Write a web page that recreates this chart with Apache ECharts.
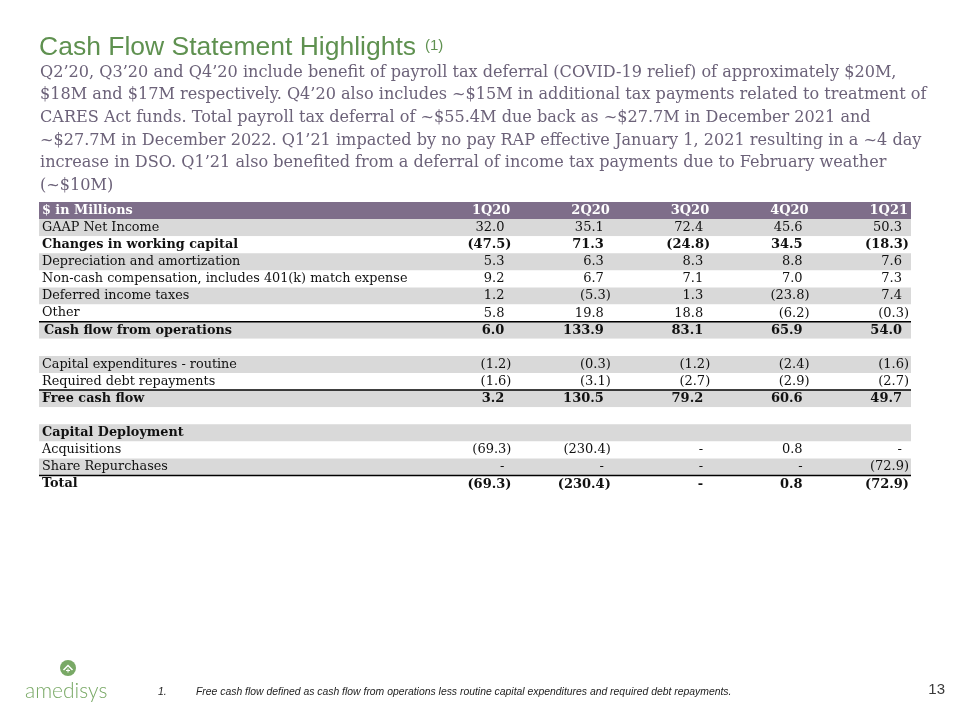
<!DOCTYPE html>
<html>
<head>
<meta charset="utf-8">
<script src="https://cdn.jsdelivr.net/npm/echarts@6/dist/echarts.min.js"></script>
<style>
  html, body { margin: 0; padding: 0; background: #fff; }
  #main { width: 960px; height: 720px; }
</style>
</head>
<body>
<div id="main"></div>
<script>
// quarters (columns)
var quarters = ['1Q20', '2Q20', '3Q20', '4Q20', '1Q21'];

// row values, $ in millions (0 shows as "-")
var gaapNetIncome    = [32.0, 35.1, 72.4, 45.6, 50.3];
var workingCapital   = [-47.5, 71.3, -24.8, 34.5, -18.3];
var depreciation     = [5.3, 6.3, 8.3, 8.8, 7.6];
var nonCashComp      = [9.2, 6.7, 7.1, 7.0, 7.3];
var deferredTaxes    = [1.2, -5.3, 1.3, -23.8, 7.4];
var otherItems       = [5.8, 19.8, 18.8, -6.2, -0.3];
var cashFromOps      = [6.0, 133.9, 83.1, 65.9, 54.0];
var capexRoutine     = [-1.2, -0.3, -1.2, -2.4, -1.6];
var debtRepayments   = [-1.6, -3.1, -2.7, -2.9, -2.7];
var freeCashFlow     = [3.2, 130.5, 79.2, 60.6, 49.7];
var acquisitions     = [-69.3, -230.4, 0, 0.8, 0];
var shareRepurchases = [0, 0, 0, 0, -72.9];
var deploymentTotal  = [-69.3, -230.4, 0, 0.8, -72.9];

// row labels, top to bottom (header first)
var rowLabels = [
  '$ in Millions',
  'GAAP Net Income',
  'Changes in working capital',
  'Depreciation and amortization',
  'Non-cash compensation, includes 401(k) match expense',
  'Deferred income taxes',
  'Other',
  'Cash flow from operations',
  '',
  'Capital expenditures - routine',
  'Required debt repayments',
  'Free cash flow',
  '',
  'Capital Deployment',
  'Acquisitions',
  'Share Repurchases',
  'Total'
];
var rowValues = [
  null, gaapNetIncome, workingCapital, depreciation, nonCashComp, deferredTaxes,
  otherItems, cashFromOps, null, capexRoutine, debtRepayments, freeCashFlow,
  null, null, acquisitions, shareRepurchases, deploymentTotal
];

// styling by row
var boldRows = [0, 2, 7, 11, 13, 16];
var ruleRows = [7, 11, 16];

var TABLE_LEFT = 39, TABLE_RIGHT = 911;
var serif = '"DejaVu Serif", Georgia, serif';
var sans = '"Liberation Sans", Arial, sans-serif';

var myChart = echarts.init(document.getElementById('main'));

var rowData = rowLabels.map(function (l, i) { return [0, i]; });
var cellData = [];
rowValues.forEach(function (vals, r) {
  if (!vals) return;
  vals.forEach(function (v, c) { cellData.push([c, r, v]); });
});
var headData = quarters.map(function (q, c) { return [c, 0]; });

function fmt(v) {
  if (v === 0) return '-';
  if (v < 0) return '(' + Math.abs(v).toFixed(1) + ')';
  return v.toFixed(1);
}

var option = {
  backgroundColor: '#fff',
  animation: false,
  grid: {
    left: 414, right: 960 - TABLE_RIGHT, top: 202, height: 17.1 * rowLabels.length,
    outerBoundsMode: 'none', containLabel: false
  },
  xAxis: { type: 'category', data: quarters, show: false },
  yAxis: { type: 'category', inverse: true, data: rowLabels.map(function (l, i) { return 'r' + i; }), show: false },
  graphic: [
    { type: 'text', style: { x: 39, y: 48, text: 'Cash Flow Statement Highlights', font: '26.5px ' + sans, fill: '#5f9150', verticalAlign: 'middle' } },
    { type: 'text', style: { x: 425, y: 46, text: '(1)', font: '15px ' + sans, fill: '#5f9150', verticalAlign: 'middle' } },
    { type: 'text', style: {
        x: 40, y: 61,
        text: 'Q2\u201920, Q3\u201920 and Q4\u201920 include benefit of payroll tax deferral (COVID-19 relief) of approximately $20M,\n' +
              '$18M and $17M respectively. Q4\u201920 also includes ~$15M in additional tax payments related to treatment of\n' +
              'CARES Act funds. Total payroll tax deferral of ~$55.4M due back as ~$27.7M in December 2021 and\n' +
              '~$27.7M in December 2022. Q1\u201921 impacted by no pay RAP effective January 1, 2021 resulting in a ~4 day\n' +
              'increase in DSO. Q1\u201921 also benefited from a deferral of income tax payments due to February weather\n' +
              '(~$10M)',
        font: '16.1px ' + serif, lineHeight: 22.7, fill: '#6c6279'
      } },
    { type: 'circle', shape: { cx: 68, cy: 668, r: 8 }, style: { fill: '#79a966' } },
    { type: 'polyline', shape: { points: [[63.5, 670], [68, 665.5], [72.5, 670]] }, style: { stroke: '#fff', lineWidth: 1.5, fill: null } },
    { type: 'line', shape: { x1: 68, y1: 668.5, x2: 68, y2: 672.5 }, style: { stroke: '#fff', lineWidth: 1 } },
    { type: 'line', shape: { x1: 66, y1: 670.5, x2: 70, y2: 670.5 }, style: { stroke: '#fff', lineWidth: 1 } },
    { type: 'text', style: { x: 25, y: 691, text: 'amedisys', font: '300 21px Lato, "Open Sans", sans-serif', fill: '#79a966', verticalAlign: 'middle' } },
    { type: 'text', style: { x: 158, y: 692, text: '1.', font: 'italic 10.4px ' + sans, fill: '#222', verticalAlign: 'middle' } },
    { type: 'text', style: { x: 196, y: 692, text: 'Free cash flow defined as cash flow from operations less routine capital expenditures and required debt repayments.', font: 'italic 10.4px ' + sans, fill: '#222', verticalAlign: 'middle' } },
    { type: 'text', style: { x: 945, y: 690, text: '13', font: '15px ' + sans, fill: '#3a3a3a', align: 'right', verticalAlign: 'middle' } }
  ],
  series: [
    {
      // row bands, rules and row labels
      type: 'custom', z: 1, silent: true,
      data: rowData,
      renderItem: function (params, api) {
        var row = api.value(1);
        var p = api.coord([0, row]);
        var h = api.size([0, 1])[1];
        var y0 = p[1] - h / 2;
        var fill = row === 0 ? '#7e6e8a' : (row % 2 === 1 ? '#d9d9d9' : '#ffffff');
        var bold = boldRows.indexOf(row) >= 0;
        var children = [{
          type: 'rect', shape: { x: TABLE_LEFT, y: y0, width: TABLE_RIGHT - TABLE_LEFT, height: h },
          style: { fill: fill }
        }];
        if (ruleRows.indexOf(row) >= 0) {
          children.push({
            type: 'line', shape: { x1: TABLE_LEFT, y1: y0, x2: TABLE_RIGHT, y2: y0 },
            style: { stroke: '#000', lineWidth: 1.5 }
          });
        }
        children.push({
          type: 'text',
          style: {
            x: TABLE_LEFT + (row === 7 ? 5 : 3), y: p[1], text: rowLabels[row],
            font: (bold ? 'bold ' : '') + '12.8px ' + serif,
            fill: row === 0 ? '#fff' : '#111', verticalAlign: 'middle'
          }
        });
        return { type: 'group', children: children };
      }
    },
    {
      // header quarter labels
      type: 'custom', z: 5, silent: true,
      data: headData,
      renderItem: function (params, api) {
        var p = api.coord([api.value(0), 0]);
        var w = api.size([1, 0])[0];
        return {
          type: 'text',
          style: {
            x: p[0] + w / 2 - 3, y: p[1], text: quarters[api.value(0)],
            font: 'bold 13px ' + serif, fill: '#fff', align: 'right', verticalAlign: 'middle'
          }
        };
      }
    },
    {
      // values
      type: 'custom', z: 5, silent: true,
      data: cellData,
      renderItem: function (params, api) {
        var col = api.value(0), row = api.value(1), v = api.value(2);
        var p = api.coord([col, row]);
        var w = api.size([1, 0])[0];
        var pad = v < 0 ? 2 : 9;
        var bold = boldRows.indexOf(row) >= 0;
        return {
          type: 'text',
          style: {
            x: p[0] + w / 2 - pad, y: p[1], text: fmt(v),
            font: (bold ? 'bold ' : '') + '13px ' + serif, fill: '#111',
            align: 'right', verticalAlign: 'middle'
          }
        };
      }
    }
  ]
};
myChart.setOption(option);
</script>
</body>
</html>
